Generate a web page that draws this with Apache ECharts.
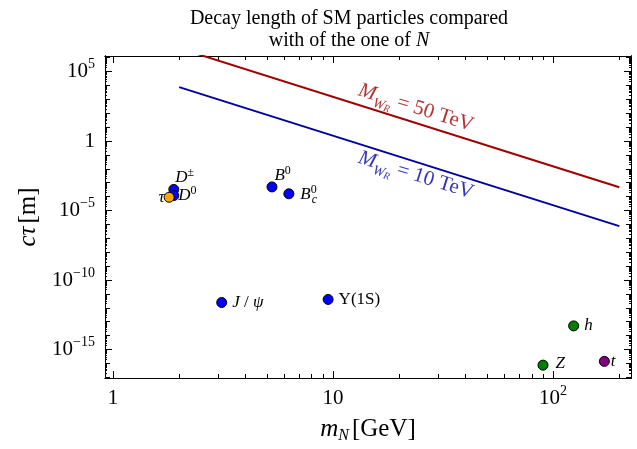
<!DOCTYPE html>
<html>
<head>
<meta charset="utf-8">
<script src="https://cdn.jsdelivr.net/npm/echarts@6/dist/echarts.min.js"></script>
<style>
html, body { margin: 0; padding: 0; background: #fff; }
#chart { width: 637px; height: 449px; }
</style>
</head>
<body>
<div id="chart"></div>
<script>
// SM particles: mass [GeV] and decay length c*tau [m]
var particles = ['D±', 'D0', 'τ', 'B0', 'Bc0', 'J/ψ', 'Υ(1S)', 'Z', 'h', 't'];
var massGeV = [1.89, 1.89, 1.80, 5.28, 6.3, 3.12, 9.5, 90, 124, 171];
var ctau = [3.3e-4, 1.2e-4, 9e-5, 5e-4, 1.6e-4, 2.4e-12, 4e-12, 7.5e-17, 5e-14, 1.4e-16];

// heavy neutrino N: end points of the two straight lines
var lineMass = [2, 200];
var ctau10TeV = [7.6e3, 7.6e-7];
var ctau50TeV = [4.75e6, 4.75e-4];

// ticks
var xMajor = [1, 10, 100];
var xMinor = [2, 3, 4, 5, 6, 7, 8, 9, 20, 30, 40, 50, 60, 70, 80, 90, 200];
var yMajor = [1e-15, 1e-10, 1e-5, 1, 1e5];
var yDecadeExp = [-17, -16, -15, -14, -13, -12, -11, -10, -9, -8, -7, -6, -5, -4, -3, -2, -1, 0, 1, 2, 3, 4, 5, 6];

var yDecade = [], yMinor = [];
yDecadeExp.forEach(function (e) {
    yDecade.push(Math.pow(10, e));
    for (var k = 2; k < 10; k++) yMinor.push(k * Math.pow(10, e));
});

var serif = 'Liberation Serif';
function ts(size, italic, extra) {
    var s = { fontFamily: serif, fontSize: size, fontStyle: italic ? 'italic' : 'normal', color: '#000' };
    for (var k in extra) s[k] = extra[k];
    return s;
}

function powLabel(v) {
    var e = Math.round(Math.log10(v));
    if (e === 0) return '{b|1}';
    if (e === 1) return '{b|10}';
    return '{b|10}{sup|' + (e < 0 ? '\u2212' + (-e) : e) + '}';
}
var tickRich = {
    b: ts(21, false, { lineHeight: 28 }),
    sup: ts(14, false, { lineHeight: 12, verticalAlign: 'top' })
};

var colors = {
    'D±': '#0000ff', 'D0': '#0000ff', 'τ': '#ffa500', 'B0': '#0000ff', 'Bc0': '#0000ff',
    'J/ψ': '#0000ff', 'Υ(1S)': '#0000ff', 'Z': '#008000', 'h': '#008000', 't': '#800080'
};
var labelText = {
    'D±': '{i|D}{sup|±}', 'D0': '{i|D}{sup|0}', 'τ': '{i|τ}', 'B0': '{i|B}{sup|0}',
    'Bc0': '{i|B}{supz|0}{sub|c}', 'J/ψ': '{i|J}{r| / }{i|ψ}', 'Υ(1S)': '{r|Υ(1S)}',
    'Z': '{i|Z}', 'h': '{i|h}', 't': '{i|t}'
};
var labelPlace = {
    'D±': { position: 'right', distance: 0, offset: [-4, -12] },
    'D0': { position: 'right', distance: 0, offset: [-1, 0] },
    'τ': { position: 'left', distance: 0, offset: [1, 0] },
    'B0': { position: 'right', distance: 0, offset: [-3, -11] },
    'Bc0': { position: 'right', distance: 6, offset: [0, 1] },
    'J/ψ': { position: 'right', distance: 5 },
    'Υ(1S)': { position: 'right', distance: 5 },
    'Z': { position: 'right', distance: 7, offset: [0, -2] },
    'h': { position: 'right', distance: 5 },
    't': { position: 'right', distance: 1 }
};
var pointRich = {
    i: ts(17, true, { lineHeight: 22 }),
    r: ts(17, false, { lineHeight: 22 }),
    sup: ts(12, false, { lineHeight: 11, verticalAlign: 'top' }),
    supz: ts(12, false, { lineHeight: 11, verticalAlign: 'top', width: 1 }),
    sub: ts(12, true, { lineHeight: 11, verticalAlign: 'bottom' })
};

var points = particles.map(function (p, i) {
    var lp = labelPlace[p];
    return {
        name: p,
        value: [massGeV[i], ctau[i]],
        itemStyle: { color: colors[p] },
        label: {
            show: true, position: lp.position, distance: lp.distance, offset: lp.offset || [0, 0],
            formatter: labelText[p], rich: pointRich, color: '#000'
        }
    };
});

function zip(a, b) { return a.map(function (v, i) { return [v, b[i]]; }); }

function lineLabelRich(color) {
    return {
        M: ts(21, true, { color: color, lineHeight: 30 }),
        W: ts(14, true, { color: color, lineHeight: 18, verticalAlign: 'bottom' }),
        R: ts(10, true, { color: color, lineHeight: 10, verticalAlign: 'bottom' }),
        t: ts(21, false, { color: color, lineHeight: 30 })
    };
}

var red = '#a00000', blue = '#0000a0';
var xRange = { min: 0.92, max: 226 };
var yRange = { min: 8.9e-18, max: 1.32e6 };

function xAx(pos, ticks, len, extra) {
    var a = {
        type: 'log', logBase: 10, position: pos, min: xRange.min, max: xRange.max,
        axisLine: { show: true, onZero: false, lineStyle: { color: '#000', width: 1 } },
        axisTick: { show: true, inside: true, length: len, customValues: ticks, lineStyle: { color: '#000' } },
        axisLabel: { show: false },
        splitLine: { show: false }
    };
    for (var k in extra) a[k] = extra[k];
    return a;
}
function yAx(pos, ticks, len, extra) {
    var a = {
        type: 'log', logBase: 10, position: pos, min: yRange.min, max: yRange.max,
        axisLine: { show: true, onZero: false, lineStyle: { color: '#000', width: 1 } },
        axisTick: { show: true, inside: true, length: len, customValues: ticks, lineStyle: { color: '#000' } },
        axisLabel: { show: false },
        splitLine: { show: false }
    };
    for (var k in extra) a[k] = extra[k];
    return a;
}

var myChart = echarts.init(document.getElementById('chart'));
var option = {
    animation: false,
    backgroundColor: '#fff',
    textStyle: { fontFamily: serif },
    title: {
        text: 'Decay length of SM particles compared\nwith of the one of {i|N}',
        left: 344, top: 3, textAlign: 'center',
        textStyle: {
            fontFamily: serif, fontSize: 20, fontWeight: 'normal', color: '#000', lineHeight: 22,
            rich: { i: ts(20, true, { lineHeight: 22 }) }
        }
    },
    grid: { left: 105, right: 6, top: 56, bottom: 71 },
    xAxis: [
        xAx('bottom', xMajor, 7, {
            name: '{i|m}{sub|N} {r|[GeV]}', nameLocation: 'middle', nameGap: 36,
            nameTextStyle: {
                rich: {
                    i: ts(25, true, { lineHeight: 30 }),
                    sub: ts(16, true, { lineHeight: 18, verticalAlign: 'bottom' }),
                    r: ts(25, false, { lineHeight: 30 })
                }
            },
            axisLabel: {
                show: true, margin: 6, customValues: xMajor, rich: tickRich,
                formatter: function (v) { return powLabel(v); }
            }
        }),
        xAx('bottom', xMinor, 4),
        xAx('top', xMajor, 7),
        xAx('top', xMinor, 4)
    ],
    yAxis: [
        yAx('left', yMajor, 7, {
            name: '{i|cτ} {r|[m]}', nameLocation: 'middle', nameGap: 60,
            nameTextStyle: {
                rich: { i: ts(25, true), r: ts(25, false) }
            },
            axisLabel: {
                show: true, margin: 10, customValues: yMajor, rich: tickRich,
                formatter: function (v) { return powLabel(v); }
            }
        }),
        yAx('left', yDecade, 5),
        yAx('left', yMinor, 2),
        yAx('right', yMajor, 7),
        yAx('right', yDecade, 5),
        yAx('right', yMinor, 2)
    ],
    series: [
        {
            name: 'MWR = 50 TeV', type: 'line', data: zip(lineMass, ctau50TeV),
            symbol: 'none', clip: true, z: 2,
            lineStyle: { color: red, width: 2 }
        },
        {
            name: 'MWR = 10 TeV', type: 'line', data: zip(lineMass, ctau10TeV),
            symbol: 'none', clip: true, z: 2,
            lineStyle: { color: blue, width: 2 }
        },
        {
            name: 'line labels', type: 'scatter', symbolSize: 0, silent: true, z: 3,
            data: [
                { value: [23.8, 250], label: { formatter: '{M|M}{W|W}{R|R}{t| = 50 TeV}', rich: lineLabelRich(red) } },
                { value: [23.8, 0.0035], label: { formatter: '{M|M}{W|W}{R|R}{t| = 10 TeV}', rich: lineLabelRich(blue) } }
            ],
            label: { show: true, position: 'inside', rotate: -17.5 }
        },
        {
            name: 'SM particles', type: 'scatter', symbol: 'circle', symbolSize: 10, z: 4,
            itemStyle: { borderColor: '#000', borderWidth: 1, opacity: 1 },
            data: points
        }
    ]
};
myChart.setOption(option);
</script>
</body>
</html>
